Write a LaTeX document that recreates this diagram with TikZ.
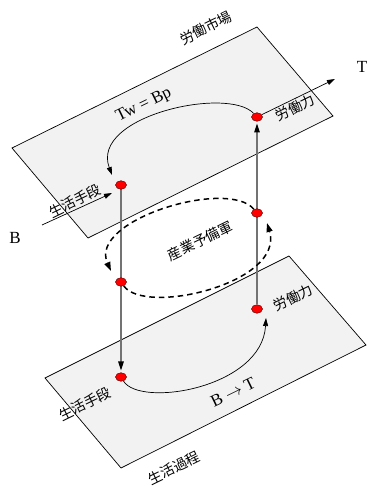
\documentclass[tikz,border=0pt]{standalone}
\usepackage{fontspec}
\setmainfont{Liberation Serif}
\newfontfamily\cjkfont{Noto Sans CJK JP}
\usetikzlibrary{arrows.meta,shapes.geometric}
\pgfdeclarelayer{front}
\pgfsetlayers{main,front}
\begin{document}
\begin{tikzpicture}[x=1pt,y=1pt,
  plane/.style={draw=black,line width=0.7pt,fill=black!5},
  dot/.style={ellipse,draw=black!60!red,line width=0.5pt,fill=red,minimum width=11pt,minimum height=8.5pt,inner sep=0pt},
  vline/.style={draw=black!55,line width=1.1pt,-{Triangle[length=9pt,width=5.5pt,color=black]}},
  thinarrow/.style={draw=black,line width=0.7pt,-{Triangle[length=8pt,width=5pt]}},
  dasharc/.style={draw=black,line width=1.5pt,dash pattern=on 5.5pt off 4pt,-{Triangle[length=9pt,width=6pt]}},
  cjklabel/.style={font=\cjkfont\fontsize{14}{16}\selectfont,rotate=26,inner sep=0pt},
  latlabel/.style={font=\fontsize{17}{20}\selectfont,inner sep=0pt}
]
\useasboundingbox (0,0) rectangle (370,488);
% planes
\draw[plane] (12,340) -- (257,461) -- (333,372) -- (88,250) -- cycle;
\draw[plane] (45,110) -- (289,232) -- (366,143) -- (121,20) -- cycle;
% dots
\begin{pgfonlayer}{front}
\node[dot] (tl) at (121,303) {};
\node[dot] (tr) at (257,371) {};
\node[dot] (rm) at (257,275) {};
\node[dot] (lm) at (121,206) {};
\node[dot] (bl) at (121,111) {};
\node[dot] (br) at (257,179) {};
\end{pgfonlayer}
\coordinate (Tend) at (335,409);
\coordinate (Bs) at (42,263);
% vertical connectors
\draw[vline,shorten >=2pt] (tl) -- (bl);
\draw[vline,shorten >=2pt] (br) -- (tr);
% T and B arrows
\draw[thinarrow] (tr) -- (Tend);
\draw[thinarrow] (Bs) -- ([shift={(-9,-8)}]tl.center);
% curves
\draw[thinarrow] (tr) .. controls (228,402) and (90,372) .. ([shift={(-9,10)}]tl.center);
\draw[thinarrow] (bl) .. controls (140,80) and (262,100) .. ([shift={(9,-9)}]br.center);
% dashed cycle
\draw[dasharc] (rm) .. controls (228,310) and (88,268) .. ([shift={(-10,11)}]lm.center);
\draw[dasharc] (lm) .. controls (145,172) and (285,205) .. ([shift={(10,-10)}]rm.center);
% labels
\node[cjklabel] (l1) at (206,460) {労働市場};
\node[cjklabel] (l2) at (295,380) {労働力};
\node[cjklabel] (l3) at (75,287) {生活手段};
\node[cjklabel] (l4) at (200,247) {産業予備軍};
\node[cjklabel] (l5) at (293,190) {労働力};
\node[cjklabel] (l6) at (85,84) {生活手段};
\node[cjklabel] (l7) at (174,20) {生活過程};
\node[latlabel,rotate=26] (l8) at (144,383) {Tw = Bp};
\node[latlabel,rotate=26] (l9) at (233,96) {B $\rightarrow$ T};
\node[latlabel] (l10) at (15,250) {B};
\node[latlabel] (l11) at (362,421) {T};
\end{tikzpicture}
\end{document}
